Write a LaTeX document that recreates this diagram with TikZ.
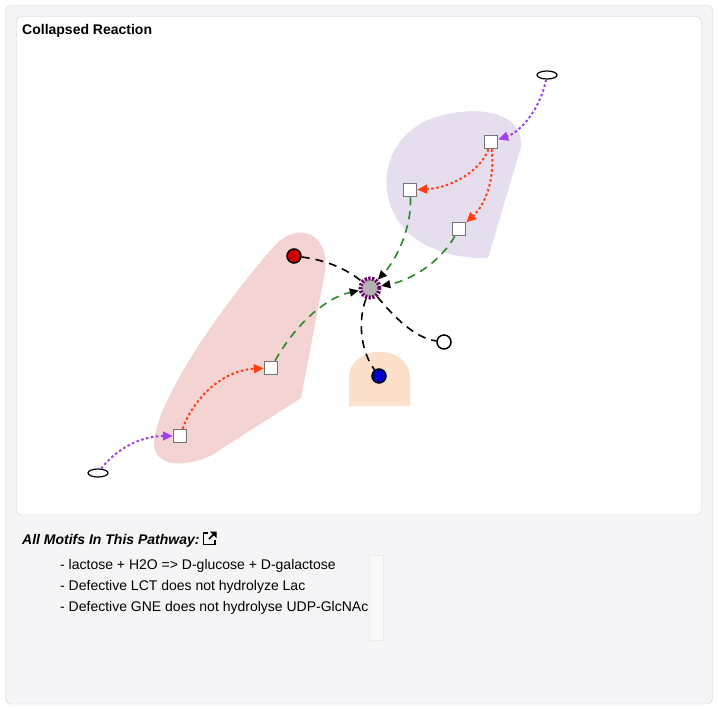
\documentclass[tikz,border=0pt]{standalone}
\usepackage{fontspec}
\setmainfont{Liberation Sans}
\usepackage{xcolor}
\usepackage{tikz}
\usetikzlibrary{positioning, arrows.meta, shapes.geometric}

\definecolor{panelbg}{HTML}{F5F5F7}
\definecolor{panelline}{HTML}{CFCFD2}
\definecolor{hullpink}{HTML}{F4D3D3}
\definecolor{hullpurple}{HTML}{E6DEEE}
\definecolor{hullpeach}{HTML}{FDE0CA}
\definecolor{linkgreen}{HTML}{2A8A2A}
\definecolor{linkpurple}{HTML}{A040F0}
\definecolor{linkred}{HTML}{FF4010}

\tikzset{
  entity/.style={draw=gray!90!black, line width=1.5pt, fill=white, rectangle, minimum size=13pt, inner sep=0pt},
  species/.style={draw=black, line width=1.5pt, circle, minimum size=14pt, inner sep=0pt},
  source/.style={draw=black, line width=1.2pt, ellipse, fill=white, minimum width=20pt, minimum height=8pt, inner sep=0pt},
  hub/.style={circle, fill=gray!60, draw=violet!80!black, line width=4pt, dash pattern=on 2pt off 1.6pt, minimum size=19pt, inner sep=0pt},
  reactant/.style={black, line width=1.6pt, dash pattern=on 8pt off 6pt},
  product/.style={linkgreen, line width=1.6pt, dash pattern=on 8pt off 6pt, -{Triangle[length=9pt, width=8pt, color=black]}},
  feed/.style={linkpurple, line width=2pt, dash pattern=on 2.5pt off 2.5pt, -{Triangle[length=10pt, width=9pt]}},
  convert/.style={linkred, line width=2pt, dash pattern=on 2.5pt off 2.5pt, -{Triangle[length=10pt, width=9pt]}},
  motif/.style={anchor=base west, inner sep=0pt, font=\fontsize{14}{16}\selectfont}
}

\begin{document}
\begin{tikzpicture}[x=1pt, y=-1pt]
  \useasboundingbox (0,0) rectangle (718,709);

  % panels
  \draw[panelline, fill=panelbg, rounded corners=5pt] (5.5,5.5) rectangle (712.5,704);
  \draw[panelline, fill=white, rounded corners=5pt] (16.5,16.5) rectangle (701.5,515);
  \node[anchor=base west, inner sep=0pt, font=\bfseries\fontsize{14}{16}\selectfont] (title) at (22,35) {Collapsed Reaction};

  % hulls
  \fill[hullpurple] (488,258) -- (521,147) .. controls (524,108) and (468,104) .. (428,120)
    .. controls (378,142) and (374,205) .. (412,236) .. controls (432,252) and (462,259) .. (488,258) -- cycle;
  \fill[hullpink] (301,398) -- (325,272) .. controls (330,232) and (298,222) .. (276,244)
    .. controls (222,305) and (160,395) .. (154,440) .. controls (152,468) and (185,468) .. (212,455) -- cycle;
  \fill[hullpeach] (349,406) -- (349,378) .. controls (349,343) and (410,343) .. (410,378) -- (410,406) -- cycle;

  % nodes
  \node[hub] (rxn) at (370,288) {};
  \node[species, fill=red!80!black] (red) at (294,256) {};
  \node[species, fill=blue!80!black] (blue) at (379,376) {};
  \node[species, fill=white] (white) at (444,342) {};
  \node[entity] (top) at (491,142) {};
  \node[entity] (upleft) at (410,190) {};
  \node[entity] (upright) at (459,229) {};
  \node[entity] (lowtop) at (271,368) {};
  \node[entity] (lowbot) at (180,436) {};
  \node[source] (srctop) at (547,75) {};
  \node[source] (srcbot) at (98,473) {};

  % connectors
  \draw[reactant] (red) .. controls (325,260) and (345,268) .. (rxn);
  \draw[reactant] (rxn) .. controls (395,318) and (415,338) .. (white);
  \draw[reactant] (rxn) .. controls (358,320) and (360,350) .. (blue);
  \draw[product] (lowtop) .. controls (295,325) and (325,298) .. (rxn);
  \draw[product] (upleft) .. controls (412,225) and (398,258) .. (rxn);
  \draw[product] (upright) .. controls (440,262) and (412,280) .. (rxn);
  \draw[feed] (srctop) .. controls (540,110) and (520,132) .. (top);
  \draw[feed] (srcbot) .. controls (115,450) and (140,436) .. (lowbot);
  \draw[convert] (top) .. controls (480,172) and (450,188) .. (upleft);
  \draw[convert] (top) .. controls (495,180) and (485,205) .. (upright);
  \draw[convert] (lowbot) .. controls (195,395) and (225,370) .. (lowtop);

  % motifs
  \node[anchor=base west, inner sep=0pt, font=\bfseries\itshape\fontsize{14}{16}\selectfont] (motifs) at (22,544) {All Motifs In This Pathway:};
  \begin{scope}[xshift=202pt, yshift=-531pt, line width=1.6pt, black]
    \draw (6,2) -- (1.5,2) -- (1.5,13.5) -- (13,13.5) -- (13,9);
    \draw (7,8) -- (13.5,1.5);
    \fill (8,0.5) -- (14.5,0.5) -- (14.5,7) -- cycle;
  \end{scope}
  \node[motif] (m1) at (60,569) {- lactose + H2O => D-glucose + D-galactose};
  \node[motif] (m2) at (60,590) {- Defective LCT does not hydrolyze Lac};
  \node[motif] (m3) at (60,611) {- Defective GNE does not hydrolyse UDP-GlcNAc};
  \draw[gray!15, fill=gray!5] (369.5,555) rectangle (383,640);
\end{tikzpicture}
\end{document}
